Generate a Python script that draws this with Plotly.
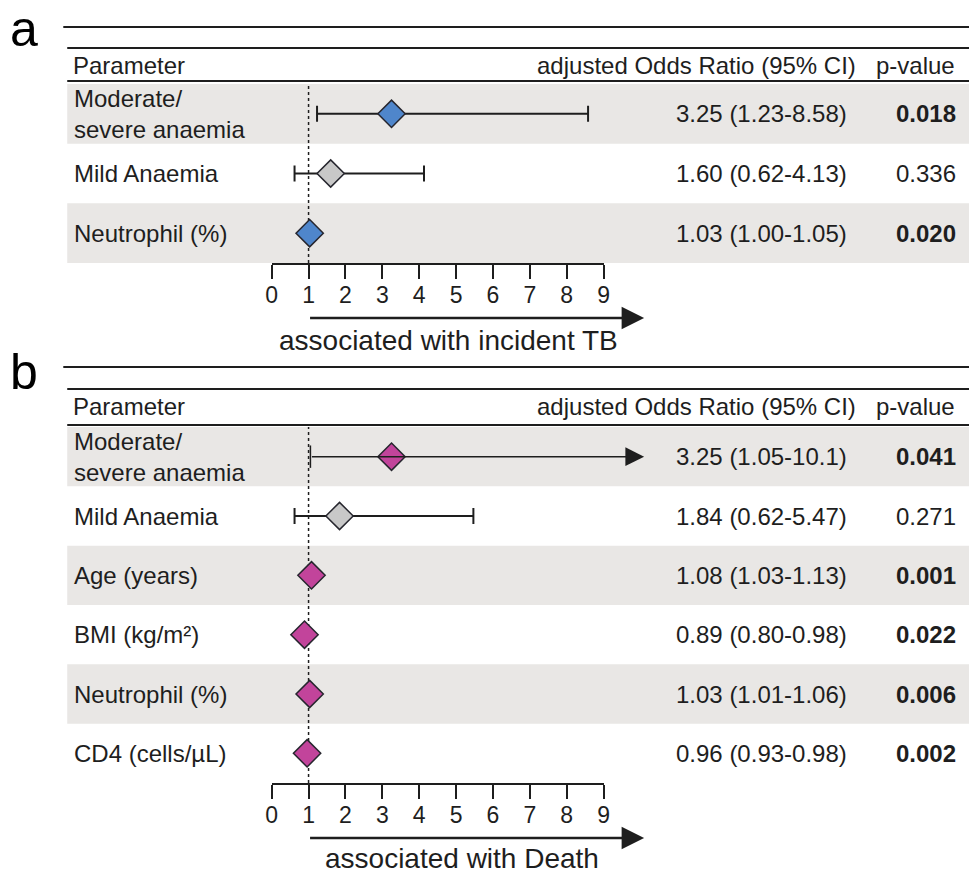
import plotly.graph_objects as go

# ---------------- data ----------------
a_labels = ["Moderate/<br>severe anaemia", "Mild Anaemia", "Neutrophil (%)"]
a_or = [3.25, 1.60, 1.03]
a_lo = [1.23, 0.62, 1.00]
a_hi = [8.58, 4.13, 1.05]
a_ci_text = ["3.25 (1.23-8.58)", "1.60 (0.62-4.13)", "1.03 (1.00-1.05)"]
a_p = ["0.018", "0.336", "0.020"]
a_sig = [True, False, True]
a_group = ["sig", "ns", "sig"]

b_labels = ["Moderate/<br>severe anaemia", "Mild Anaemia", "Age (years)",
            "BMI (kg/m²)", "Neutrophil (%)", "CD4 (cells/µL)"]
b_or = [3.25, 1.84, 1.08, 0.89, 1.03, 0.96]
b_lo = [1.05, 0.62, 1.03, 0.80, 1.01, 0.93]
b_hi = [10.1, 5.47, 1.13, 0.98, 1.06, 0.98]
b_ci_text = ["3.25 (1.05-10.1)", "1.84 (0.62-5.47)", "1.08 (1.03-1.13)",
             "0.89 (0.80-0.98)", "1.03 (1.01-1.06)", "0.96 (0.93-0.98)"]
b_p = ["0.041", "0.271", "0.001", "0.022", "0.006", "0.002"]
b_sig = [True, False, True, True, True, True]
b_group = ["sig", "ns", "sig", "sig", "sig", "sig"]

tick_vals = [0, 1, 2, 3, 4, 5, 6, 7, 8, 9]
axis_max = 9
a_axis_title = "associated with incident TB"
b_axis_title = "associated with Death"

# ---------------- style ----------------
W, H = 975, 875
FONT = "Liberation Sans, Arial, sans-serif"
INK = "#1e1e1e"
SHADE = "#e9e7e5"
A_COL = {"sig": "#4f86cb", "ns": "#c8c8c8"}
B_COL = {"sig": "#c2449b", "ns": "#c8c8c8"}


def px(x):
    return x / W


def py(y):
    return 1 - y / H


fig = go.Figure()
shapes = []
annotations = []


def panel(xa, ya, labels, orv, lo, hi, ci_text, pv, sig, group, colors,
          top_rule, second_rule, header_y, header_rule, rows_top, axis_y,
          letter, letter_y, arrow_y, axis_title, title_x, title_y):
    n = len(labels)
    xref = "x" if xa == "xaxis" else "x2"
    yref = "y" if ya == "yaxis" else "y2"
    yc = [k + 0.5 for k in range(n)]

    # axes
    fig.layout[xa] = dict(
        domain=[px(269), px(605)], range=[0, axis_max], anchor=yref,
        showline=True, linecolor=INK, linewidth=2, ticks="outside",
        ticklen=14, tickwidth=2, tickcolor=INK, tickvals=tick_vals,
        tickfont=dict(family=FONT, size=23, color=INK), showgrid=False,
        zeroline=False, fixedrange=True, ticklabelstandoff=-4)
    fig.layout[ya] = dict(
        domain=[py(axis_y), py(rows_top)], range=[n, 0], anchor=xref,
        visible=False, showgrid=False, zeroline=False, fixedrange=True)

    # shaded rows
    for k in range(0, n, 2):
        shapes.append(dict(type="rect", xref="paper", yref=yref,
                           x0=px(62), x1=1, y0=k, y1=k + 1,
                           fillcolor=SHADE, line_width=0, layer="below"))
    # rules
    shapes.append(dict(type="line", xref="paper", yref="paper", x0=px(58),
                       x1=1, y0=py(top_rule), y1=py(top_rule),
                       line=dict(color=INK, width=2)))
    shapes.append(dict(type="line", xref="paper", yref="paper", x0=px(62),
                       x1=1, y0=py(second_rule), y1=py(second_rule),
                       line=dict(color=INK, width=2)))
    shapes.append(dict(type="line", xref="paper", yref="paper", x0=px(62),
                       x1=1, y0=py(header_rule), y1=py(header_rule),
                       line=dict(color=INK, width=2)))
    # reference line OR = 1
    shapes.append(dict(type="line", xref=xref, yref="paper", x0=1, x1=1,
                       y0=py(axis_y), y1=py(rows_top), layer="below",
                       line=dict(color=INK, width=1.5, dash="dot")))

    # CI with caps (upper bound within axis)
    idx = [i for i in range(n) if hi[i] <= axis_max]
    fig.add_trace(go.Scatter(
        x=[orv[i] for i in idx], y=[yc[i] for i in idx], xaxis=xref,
        yaxis=yref, mode="markers",
        marker=dict(size=1, color="rgba(0,0,0,0)"),
        error_x=dict(type="data", symmetric=False,
                     array=[hi[i] - orv[i] for i in idx],
                     arrayminus=[orv[i] - lo[i] for i in idx],
                     thickness=2, width=8, color=INK),
        hoverinfo="skip", showlegend=False))
    # CI beyond axis -> arrow
    out = [i for i in range(n) if hi[i] > axis_max]
    if out:
        fig.add_trace(go.Scatter(
            x=[lo[i] for i in out], y=[yc[i] for i in out], xaxis=xref,
            yaxis=yref, mode="markers", cliponaxis=False,
            marker=dict(symbol="line-ns", size=16,
                        line=dict(color=INK, width=1.5)),
            hoverinfo="skip", showlegend=False))
        for i in out:
            annotations.append(dict(
                x=hi[i], y=yc[i], xref=xref, yref=yref, ax=lo[i], ay=yc[i],
                axref=xref, ayref=yref, text="", showarrow=True,
                arrowhead=2, arrowsize=2.5, arrowwidth=1.5, arrowcolor=INK))
    # diamonds
    fig.add_trace(go.Scatter(
        x=orv, y=yc, xaxis=xref, yaxis=yref, mode="markers",
        cliponaxis=False,
        marker=dict(symbol="diamond", size=21,
                    color=[colors[g] for g in group],
                    line=dict(color="#26262e", width=1.5)),
        hoverinfo="skip", showlegend=False))

    # text
    tf = dict(family=FONT, size=24, color=INK)
    hf = dict(family=FONT, size=24, color=INK)
    annotations.append(dict(x=px(2), y=py(letter_y), xref="paper",
                            yref="paper", text=letter, showarrow=False,
                            xanchor="left", yanchor="middle",
                            font=dict(family=FONT, size=50, color="#000")))
    annotations.append(dict(x=px(66), y=py(header_y), xref="paper",
                            yref="paper", text="Parameter", showarrow=False,
                            xanchor="left", yanchor="middle", font=hf))
    annotations.append(dict(x=px(863), y=py(header_y), xref="paper",
                            yref="paper", text="adjusted Odds Ratio (95% CI)",
                            showarrow=False, xanchor="right",
                            yanchor="middle", font=hf))
    annotations.append(dict(x=px(963), y=py(header_y), xref="paper",
                            yref="paper", text="p-value", showarrow=False,
                            xanchor="right", yanchor="middle", font=hf))
    for k in range(n):
        annotations.append(dict(x=px(67), y=yc[k], xref="paper", yref=yref,
                                text=labels[k], showarrow=False,
                                xanchor="left", yanchor="middle", align="left",
                                font=tf))
        annotations.append(dict(x=px(854), y=yc[k], xref="paper", yref=yref,
                                text=ci_text[k], showarrow=False,
                                xanchor="right", yanchor="middle", font=tf))
        ptxt = f"<b>{pv[k]}</b>" if sig[k] else pv[k]
        annotations.append(dict(x=px(964), y=yc[k], xref="paper", yref=yref,
                                text=ptxt, showarrow=False, xanchor="right",
                                yanchor="middle", font=tf))
    # direction arrow + caption
    annotations.append(dict(x=10.1, y=py(arrow_y), xref=xref, yref="paper",
                            ax=1, ay=0, axref=xref, ayref="pixel", text="",
                            showarrow=True, arrowhead=2, arrowsize=1.8,
                            arrowwidth=2.5, arrowcolor=INK))
    annotations.append(dict(x=px(title_x), y=py(title_y), xref="paper",
                            yref="paper", text=axis_title, showarrow=False,
                            xanchor="center", yanchor="middle",
                            font=dict(family=FONT, size=28, color=INK)))


panel("xaxis", "yaxis", a_labels, a_or, a_lo, a_hi, a_ci_text, a_p, a_sig,
      a_group, A_COL, top_rule=27, second_rule=48, header_y=65,
      header_rule=81, rows_top=84, axis_y=263, letter="a", letter_y=29,
      arrow_y=318, axis_title=a_axis_title, title_x=448, title_y=340)
panel("xaxis2", "yaxis2", b_labels, b_or, b_lo, b_hi, b_ci_text, b_p, b_sig,
      b_group, B_COL, top_rule=367, second_rule=389, header_y=407,
      header_rule=425, rows_top=427, axis_y=783, letter="b", letter_y=372,
      arrow_y=838, axis_title=b_axis_title, title_x=462, title_y=858)

fig.update_layout(
    width=W, height=H, margin=dict(l=0, r=0, t=0, b=0),
    paper_bgcolor="white", plot_bgcolor="rgba(0,0,0,0)",
    shapes=shapes, annotations=annotations, showlegend=False,
    font=dict(family=FONT, color=INK))

fig.write_html("out.html", config={"displayModeBar": False})
